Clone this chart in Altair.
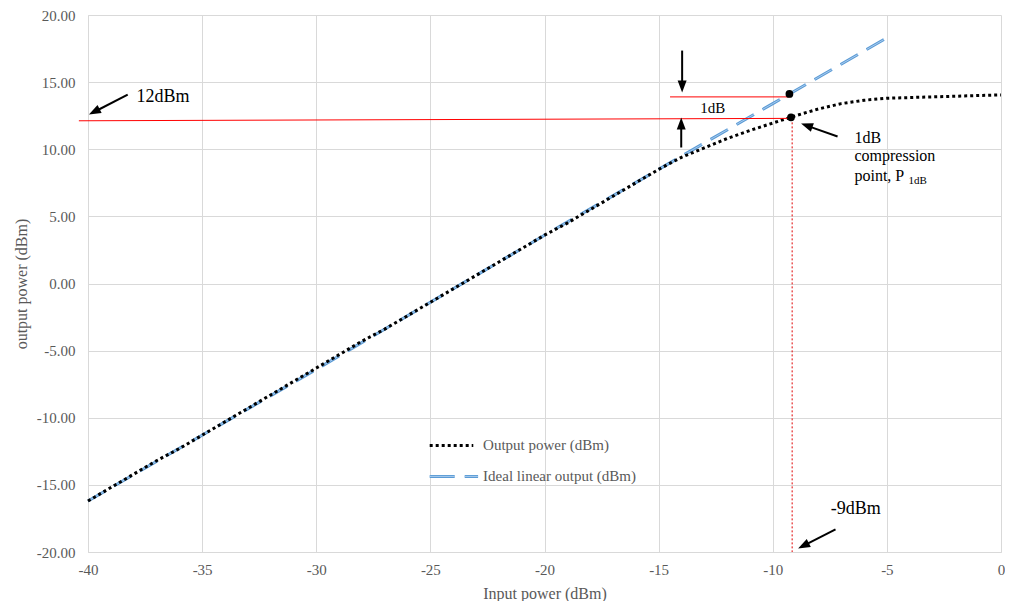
import math
import altair as alt
import pandas as pd

# ---------------- data ----------------
in_x = list(range(-40, 1))
out_y = [-16.2, -15.2, -14.2, -13.2, -12.3, -11.3, -10.3, -9.3, -8.3, -7.3,
         -6.3, -5.3, -4.3, -3.4, -2.4, -1.4, -0.4, 0.6, 1.6, 2.6,
         3.6, 4.5, 5.5, 6.5, 7.5, 8.5,
         9.4, 10.1, 10.8, 11.4, 11.95, 12.5, 13.0, 13.4, 13.65, 13.8,
         13.85, 13.9, 13.95, 14.0, 14.05]
ideal_x = [-40, -35, -30, -25, -20, -15, -10, -5]
ideal_y = [-16.2, -11.3, -6.4, -1.4, 3.6, 8.5, 13.4, 18.3]

x_ticks = list(range(-40, 1, 5))
y_ticks = list(range(-20, 21, 5))

# annotation geometry (data units)
red_x = [-40.4, -14.5]
red_x2 = [-9.25, -9.25]
red_y = [12.12, 13.9]
red_y2 = [12.3, 13.9]
vline_x = [-9.15]
vline_y = [12.3]
vline_y2 = [-20.0]
dot_x = [-9.2, -9.27]
dot_y = [12.38, 14.12]

arrow_x0 = [-13.97, -14.01, -38.26, -7.16, -7.25]
arrow_y0 = [17.35, 10.13, 14.07, 10.95, -18.32]
arrow_x1 = [-13.97, -14.01, -39.96, -8.76, -8.89]
arrow_y1 = [14.22, 12.36, 12.58, 11.91, -19.73]

big_texts = ["12dBm", "-9dBm"]
big_x = [-37.87, -7.46]
big_y = [13.92, -16.83]
gap_text = ["1dB"]
gap_x = [-12.63]
gap_y = [13.1]
comp_texts = ["1dB", "compression", "point,  P"]
comp_x = [-6.42, -6.42, -6.42]
comp_y = [10.87, 9.46, 8.04]
sub_text = ["1dB"]
sub_x = [-4.05]
sub_y = [7.62]

legend_labels = ["Output power (dBm)", "Ideal linear output (dBm)"]
legend_x = [-25.03, -25.03]
legend_x2 = [-23.12, -22.91]
legend_y = [-12.06, -14.37]
legend_tx = [-22.69, -22.69]

# ---------------- layout ----------------
PW, PH = 913, 537
FONT = "Liberation Serif"
GREY = "#595959"
GRID = "#D9D9D9"

xscale = alt.Scale(domain=[-40, 0], nice=False, zero=False)
yscale = alt.Scale(domain=[-20, 20], nice=False, zero=False)

xaxis = alt.Axis(values=x_ticks, grid=True, gridColor=GRID, domainColor=GRID,
                 ticks=False, labelColor=GREY, labelFont=FONT, labelFontSize=15,
                 labelPadding=10, title="Input power (dBm)", titleFont=FONT,
                 titleFontSize=16, titleColor=GREY, titleFontWeight="normal",
                 titlePadding=8, labelFlush=False,
                 labelExpr="replace(datum.label, '\u2212', '-')")
yaxis = alt.Axis(values=y_ticks, grid=True, gridColor=GRID, domainColor=GRID,
                 ticks=False, format=".2f", labelColor=GREY, labelFont=FONT,
                 labelFontSize=15, labelPadding=13, title="output power (dBm)",
                 titleFont=FONT, titleFontSize=16, titleColor=GREY,
                 titleFontWeight="normal", titlePadding=7, labelFlush=False,
                 labelExpr="replace(datum.label, '\u2212', '-')")

X = alt.X("x:Q", scale=xscale, axis=xaxis)
Y = alt.Y("y:Q", scale=yscale, axis=yaxis)

out_df = pd.DataFrame({"x": in_x, "y": out_y})
ideal_df = pd.DataFrame({"x": ideal_x, "y": ideal_y})

ideal_outer = alt.Chart(ideal_df).mark_line(
    color="#5B9BD5", strokeWidth=3, strokeDash=[20, 10], strokeCap="butt"
).encode(x=X, y=Y)
ideal_inner = alt.Chart(ideal_df).mark_line(
    color="#A9CBEE", strokeWidth=1, strokeDash=[20, 10], strokeCap="butt"
).encode(x=X, y=Y)
output_line = alt.Chart(out_df).mark_line(
    color="black", strokeWidth=3, strokeDash=[3, 3], strokeCap="butt"
).encode(x=X, y=Y)

red_df = pd.DataFrame({"x": red_x, "x2": red_x2, "y": red_y, "y2": red_y2})
red_lines = alt.Chart(red_df).mark_rule(color="#FF0000", strokeWidth=1).encode(
    x=X, x2="x2:Q", y=Y, y2="y2:Q")

vdf = pd.DataFrame({"x": vline_x, "y": vline_y, "y2": vline_y2})
vline = alt.Chart(vdf).mark_rule(color="#E00000", strokeWidth=1, strokeDash=[2, 2]).encode(
    x=X, y=Y, y2="y2:Q")

dots = alt.Chart(pd.DataFrame({"x": dot_x, "y": dot_y})).mark_point(
    filled=True, color="black", size=60, shape="circle", opacity=1
).encode(x=X, y=Y)

# arrows
sx, sy = PW / 40.0, PH / 40.0
shaft_rows, head_rows = [], []
for x0, y0, x1, y1 in zip(arrow_x0, arrow_y0, arrow_x1, arrow_y1):
    dxs = (x1 - x0) * sx
    dys = -(y1 - y0) * sy
    L = math.hypot(dxs, dys)
    ux, uy = dxs / L, dys / L
    shaft_rows.append({"x": x0, "y": y0,
                       "x2": x1 - 9 * ux / sx, "y2": y1 + 9 * uy / sy})
    head_rows.append({"x": x1 - 6 * ux / sx, "y": y1 + 6 * uy / sy,
                      "angle": math.degrees(math.atan2(ux, -uy)) % 360})
shafts = alt.Chart(pd.DataFrame(shaft_rows)).mark_rule(color="black", strokeWidth=2).encode(
    x=X, x2="x2:Q", y=Y, y2="y2:Q")
heads = alt.Chart(pd.DataFrame(head_rows)).mark_point(
    shape="M0,-1L0.75,1L-0.75,1Z", filled=True, color="black", size=144, opacity=1
).encode(x=X, y=Y, angle=alt.Angle("angle:Q", scale=None))

def text_layer(labels, xs, ys, size, color="black", align="left"):
    df = pd.DataFrame({"x": xs, "y": ys, "t": labels})
    return alt.Chart(df).mark_text(
        align=align, baseline="middle", font=FONT, fontSize=size, color=color
    ).encode(x=X, y=Y, text="t:N")

big = text_layer(big_texts, big_x, big_y, 18)
gap = text_layer(gap_text, gap_x, gap_y, 15, align="center")
comp = text_layer(comp_texts, comp_x, comp_y, 16)
sub = text_layer(sub_text, sub_x, sub_y, 11)

leg_df = pd.DataFrame({"x": legend_x, "x2": legend_x2, "y": legend_y, "tx": legend_tx,
                       "t": legend_labels})
leg_black = alt.Chart(leg_df.iloc[[0]]).mark_rule(
    color="black", strokeWidth=3, strokeDash=[3, 3]).encode(x=X, x2="x2:Q", y=Y)
leg_blue_o = alt.Chart(leg_df.iloc[[1]]).mark_rule(
    color="#5B9BD5", strokeWidth=3, strokeDash=[25, 10]).encode(x=X, x2="x2:Q", y=Y)
leg_blue_i = alt.Chart(leg_df.iloc[[1]]).mark_rule(
    color="#A9CBEE", strokeWidth=1, strokeDash=[25, 10]).encode(x=X, x2="x2:Q", y=Y)
leg_text = alt.Chart(leg_df).mark_text(
    align="left", baseline="middle", font=FONT, fontSize=15, color=GREY
).encode(x=alt.X("tx:Q", scale=xscale), y=Y, text="t:N")

chart = alt.layer(
    ideal_outer, ideal_inner, output_line, red_lines, vline, dots,
    shafts, heads, big, gap, comp, sub,
    leg_black, leg_blue_o, leg_blue_i, leg_text
).properties(
    width=PW, height=PH,
    autosize=alt.AutoSizeParams(type="none"),
    padding={"left": 80, "top": 7, "right": 4, "bottom": 49},
    background="white",
).configure_view(stroke=None)

chart.save("out.html", embed_options={"renderer": "svg", "actions": False})
